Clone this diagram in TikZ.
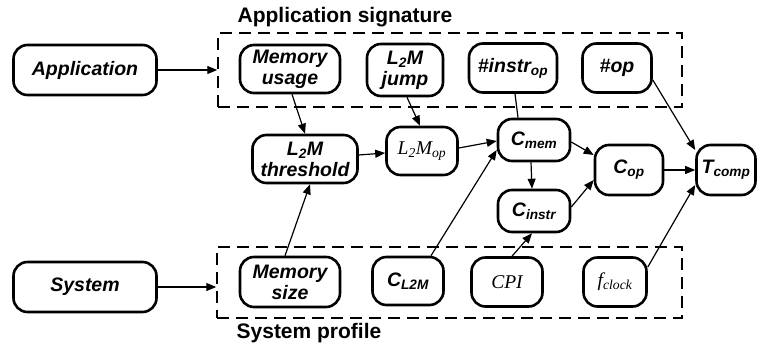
\documentclass[tikz,border=0pt]{standalone}
\usepackage{fontspec}
\setmainfont{Liberation Sans}
\newfontfamily\serifit{Liberation Serif}
\usetikzlibrary{arrows.meta,calc}

\begin{document}
\begin{tikzpicture}[x=1pt,y=-1pt,
  box/.style={draw,line width=2.6pt,rounded corners=14pt,align=center,inner sep=0pt,
    font=\fontsize{19.5}{21}\selectfont\bfseries\itshape},
  link/.style={line width=1.2pt,-{Triangle[length=10pt,width=8pt]}},
  plain/.style={line width=1.2pt},
  group/.style={draw,line width=1.5pt,dash pattern=on 12pt off 7pt,inner sep=0pt},
  title/.style={font=\fontsize{21}{23}\selectfont\bfseries}]
\useasboundingbox (0,0) rectangle (757,347);

% inputs
\node[box,minimum width=143pt,minimum height=50pt] (app) at (85,70) {Application};
\node[box,minimum width=143pt,minimum height=50pt] (sys) at (85,287) {System};

% groups
\node[group,minimum width=464pt,minimum height=74pt] (sig) at (450,70) {};
\node[group,minimum width=465pt,minimum height=71pt] (prof) at (449.5,282.5) {};
\node[title] (sigt) at (345,17) {Application signature};
\node[title] (proft) at (309,333) {System profile};

% application signature
\node[box,minimum width=100pt,minimum height=48pt] (mu) at (290,69) {Memory\\usage};
\node[box,minimum width=76pt,minimum height=52pt] (jump) at (405,70) {L\textsubscript{2}M\\jump};
\node[box,minimum width=88pt,minimum height=49pt] (instr) at (513,68) {\#instr\textsubscript{op}};
\node[box,minimum width=69pt,minimum height=49pt] (op) at (617,68) {\#op};

% model
\node[box,minimum width=105pt,minimum height=48pt] (thr) at (305,159) {L\textsubscript{2}M\\threshold};
\node[box,minimum width=71pt,minimum height=48pt] (lop) at (422,151) {{\serifit\mdseries\itshape L\textsubscript{2}M\textsubscript{op}}};
\node[box,minimum width=72pt,minimum height=42pt] (cmem) at (534,140) {C\textsubscript{mem}};
\node[box,minimum width=72pt,minimum height=42pt] (cinstr) at (534,211) {C\textsubscript{instr}};
\node[box,minimum width=68pt,minimum height=50pt] (cop) at (629,170) {C\textsubscript{op}};
\node[box,minimum width=59pt,minimum height=50pt] (tcomp) at (726,170) {T\textsubscript{comp}};

% system profile
\node[box,minimum width=100pt,minimum height=50pt] (msize) at (290,282) {Memory\\size};
\node[box,minimum width=71pt,minimum height=48pt] (cl2m) at (408,281) {C\textsubscript{L2M}};
\node[box,minimum width=71pt,minimum height=49pt] (cpi) at (507,282) {{\serifit\mdseries\itshape CPI}};
\node[box,minimum width=63pt,minimum height=49pt] (fclk) at (615,282) {{\serifit\mdseries\itshape f\textsubscript{clock}}};

% connectors
\draw[link] (app) -- (sig.west);
\draw[link] (sys.east) -- (sys.east -| prof.west);
\draw[link] ($(mu.south)+(2,0)$) -- (thr.north);
\draw[link] ($(jump.south)+(2,0)$) -- ($(lop.north)+(-2,0)$);
\draw[plain] ($(instr.south)+(2,0)$) -- ($(cmem.north)+(-16,0)$);
\draw[link] ($(op.east)+(0,12)$) -- ($(tcomp.west)+(0,-20)$);
\draw[link] ($(thr.east)+(0,-4)$) -- ($(lop.west)+(0,2)$);
\draw[link] ($(lop.east)+(0,-3)$) -- ($(cmem.west)+(0,1)$);
\draw[link] ($(msize.north)+(-5,0)$) -- ($(thr.south)+(5,0)$);
\draw[link] ($(cl2m.north)+(23,0)$) -- ($(cmem.west)+(0,10)$);
\draw[link] ($(cmem.south)+(-3,0)$) -- ($(cinstr.north)+(-2,0)$);
\draw[link] ($(cmem.east)+(0,2)$) -- ($(cop.west)+(0,-15)$);
\draw[link] ($(cinstr.east)+(0,-4)$) -- ($(cop.west)+(0,10)$);
\draw[link] ($(cpi.north)+(5,0)$) -- ($(cinstr.south)+(-2,0)$);
\draw[link] (cop) -- (tcomp);
\draw[link] ($(fclk.east)+(0,-15)$) -- ($(tcomp.west)+(0,15)$);
\end{tikzpicture}
\end{document}
